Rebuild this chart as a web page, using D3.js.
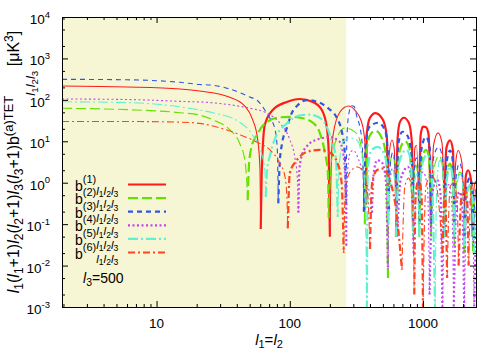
<!DOCTYPE html>
<html>
<head>
<meta charset="utf-8">
<script src="https://cdn.jsdelivr.net/npm/d3@7"></script>
<style>
  body { margin: 0; background: #fff; }
  text { font-family: "Liberation Sans", Arial, sans-serif; fill: #000; white-space: pre; }
</style>
</head>
<body>
<svg id="chart" width="500" height="350"></svg>
<script>
// axis ranges and ticks
var xDomain = [1.95, 2500];
var yDomain = [1e-3, 1e4];
var xMajor = [10, 100, 1000];
var xMinor = [2, 3, 4, 5, 6, 7, 8, 9, 20, 30, 40, 50, 60, 70, 80, 90,
              200, 300, 400, 500, 600, 700, 800, 900, 2000];
var yExponents = [-3, -2, -1, 0, 1, 2, 3, 4];
var yMinor = [2e-3, 5e-3, 2e-2, 5e-2, 2e-1, 5e-1, 2, 5, 20, 50, 200, 500, 2000, 5000];
var shadeUntil = 265;
var l3Value = 500;
var seriesLabels = ["(1)", "(2)", "(3)", "(4)", "(5)", "(6)"];

// |b|, one arc between two zeros, s = sign of the arc
var b1Arcs = [
  {s: -1, pts: [[1.95,216],[6,205],[15,183],[21,164],[35,117],[46,71],[52.7,33],[57.5,10.7],[59.8,2],[60.5,0.076]]},
  {s: 1, pts: [[60.5,0.076],[61.5,1.5],[64.9,24.7],[74.5,57],[94.9,89],[119,105],[149,89],[174,57],[190,21],[196,5.5],[200,0.05]]},
  {s: -1, pts: [[200,0.05],[206,5],[212,15],[238,51],[276,71],[310,55],[345,30],[366,10],[374,0.3]]},
  {s: 1, pts: [[374,0.3],[379,16],[400,37],[440,48],[500,33],[535,13],[546,0.1]]},
  {s: -1, pts: [[546,0.1],[555,4],[585,10.7],[610,6],[627,0.05]]},
  {s: 1, pts: [[627,0.05],[645,12],[671,29],[719,37],[783,28],[826,9],[840,0.2]]},
  {s: -1, pts: [[840,0.2],[870,7],[895,8],[933,0.1]]},
  {s: 1, pts: [[933,0.1],[960,14],[1000,22.5],[1050,22],[1100,15],[1149,0.08]]},
  {s: -1, pts: [[1149,0.08],[1200,8],[1298,16],[1390,9],[1441,0.3]]},
  {s: 1, pts: [[1441,0.3],[1500,7],[1595,10.5],[1680,6],[1711,0.2]]},
  {s: -1, pts: [[1711,0.2],[1760,3],[1835,6],[1960,3],[2034,0.1]]},
  {s: 1, pts: [[2034,0.1],[2100,1.5],[2181,2],[2290,1.2],[2360,0.05]]},
  {s: -1, pts: [[2360,0.05],[2420,0.8],[2500,1.1]]}
];
var b2Arcs = [
  {s: -1, pts: [[1.95,62.5],[6,58],[15,49],[21,43],[26.4,33],[35.4,19],[42,9],[46,3.5],[47.6,1],[48.3,0.38]]},
  {s: 1, pts: [[48.3,0.38],[49.5,3],[52,8],[56.5,14],[61.5,22],[68.3,30],[80,37],[100,39],[125,36],[149,28],[168,16],[183,5.5],[193,1.8],[196,0.14]]},
  {s: -1, pts: [[196,0.14],[205,3],[226,12],[259,21],[290,19],[324,14],[350,5],[366,0.1]]},
  {s: 1, pts: [[366,0.1],[375,5],[400,14],[440,18],[490,12],[530,4],[546,0.005]]},
  {s: -1, pts: [[546,0.005],[560,2],[590,4.7],[615,2.5],[630,0.05]]},
  {s: 1, pts: [[630,0.05],[660,5],[731,10],[790,7],[840,0.1]]},
  {s: -1, pts: [[840,0.1],[860,1.5],[885,2.7],[910,1.5],[935,0.05]]},
  {s: 1, pts: [[935,0.05],[980,3.5],[1053,6.2],[1110,4],[1150,0.05]]},
  {s: -1, pts: [[1150,0.05],[1220,2.5],[1321,4.5],[1400,2.5],[1445,0.05]]},
  {s: 1, pts: [[1445,0.05],[1510,1.5],[1595,2.9],[1670,1.5],[1715,0.03]]},
  {s: -1, pts: [[1715,0.03],[1790,1],[1897,1.8],[1990,1],[2040,0.02]]},
  {s: 1, pts: [[2040,0.02],[2120,0.5],[2220,0.9],[2320,0.5],[2380,0.02]]},
  {s: -1, pts: [[2380,0.02],[2440,0.3],[2500,0.45]]}
];
var b3Arcs = [
  {s: -1, pts: [[1.95,313],[6,305],[15,265],[21,235],[26.4,225],[42,150],[50,117],[56.5,99],[65,57],[71,36],[77,21],[80.5,7],[82,0.32]]},
  {s: 1, pts: [[82,0.32],[84,3],[87,8],[95,21],[103.5,48],[115,75],[136,99],[162,89],[193,64],[226,36],[246,17],[258,6],[265,0.3]]},
  {s: -1, pts: [[265,0.3],[268,10],[277,45],[292,72],[305,68],[319,39],[336,22],[350,8],[360,0.2]]},
  {s: 1, pts: [[360,0.2],[370,8],[395,22],[460,28],[520,18],[545,5],[556,0.2]]},
  {s: -1, pts: [[556,0.2],[570,3],[595,5.5],[615,3],[632,0.1]]},
  {s: 1, pts: [[632,0.1],[650,8],[700,17],[760,14],[820,5],[845,0.1]]},
  {s: -1, pts: [[845,0.1],[860,2],[890,4],[920,2],[938,0.1]]},
  {s: 1, pts: [[938,0.1],[970,6],[1050,12.7],[1120,8],[1155,0.1]]},
  {s: -1, pts: [[1155,0.1],[1200,4],[1310,7.3],[1400,4],[1450,0.1]]},
  {s: 1, pts: [[1450,0.1],[1500,3],[1600,6],[1680,3],[1720,0.1]]},
  {s: -1, pts: [[1720,0.1],[1780,1.5],[1880,3],[1980,1.5],[2040,0.05]]},
  {s: 1, pts: [[2040,0.05],[2120,0.8],[2250,1.3],[2350,0.6],[2400,0.03]]},
  {s: -1, pts: [[2400,0.03],[2450,0.4],[2500,0.6]]}
];
var b4Arcs = [
  {s: -1, pts: [[1.95,105],[6,102],[15,92],[26.4,85],[40,72],[50,63],[67,48],[84,28],[100,11],[109,4.2],[114,1.3],[116,0.19]]},
  {s: 1, pts: [[116,0.19],[118,2],[123,4.5],[134,7.5],[160,11],[200,12.5],[235,10],[252,5],[262,1],[266,0.03]]},
  {s: -1, pts: [[266,0.03],[272,2],[285,5.5],[300,6],[330,3.5],[366,1.2],[395,0.6],[414,0.19]]},
  {s: 1, pts: [[414,0.19],[425,1.5],[452,3.5],[495,3],[525,1.2],[546,0.008]]},
  {s: -1, pts: [[546,0.008],[560,0.8],[590,2.2],[620,1.5],[640,0.05]]},
  {s: 1, pts: [[640,0.05],[680,1.2],[770,2.4],[820,1.2],[850,0.02]]},
  {s: -1, pts: [[850,0.02],[900,0.8],[1000,1.8],[1080,0.8],[1120,0.002]]},
  {s: 1, pts: [[1120,0.002],[1180,0.6],[1270,1.2],[1350,0.6],[1400,0.0008]]},
  {s: -1, pts: [[1400,0.0008],[1470,0.5],[1560,0.9],[1640,0.4],[1700,0.0008]]},
  {s: 1, pts: [[1700,0.0008],[1780,0.3],[1880,0.6],[1970,0.3],[2040,0.0008]]},
  {s: -1, pts: [[2040,0.0008],[2130,0.2],[2250,0.35],[2360,0.15],[2420,0.0008]]},
  {s: 1, pts: [[2420,0.0008],[2500,0.1]]}
];
var b5Arcs = [
  {s: -1, pts: [[1.95,90],[6,86],[15,68],[21,57],[26.4,49],[42,29],[52.7,14],[61.5,5],[65,2],[66,0.45]]},
  {s: 1, pts: [[66,0.45],[67.5,2],[71,4.5],[77,11],[95,27],[119,42],[140,44],[165,38],[190,22],[205,11],[222,4],[229,0.15]]},
  {s: -1, pts: [[229,0.15],[236,3],[250,9.6],[285,12],[319,10.7],[345,5],[365,1],[379,0.0008]]},
  {s: 1, pts: [[379,0.0008],[385,2],[410,6],[455,7.3],[510,5],[540,2],[550,0.1]]},
  {s: -1, pts: [[550,0.1],[570,1],[592,2],[615,1],[630,0.05]]},
  {s: 1, pts: [[630,0.05],[660,3],[750,6.2],[810,3.5],[842,0.05]]},
  {s: -1, pts: [[842,0.05],[870,1.2],[900,1.6],[935,0.05]]},
  {s: 1, pts: [[935,0.05],[980,2.5],[1070,4.7],[1150,3],[1232,0.0008]]},
  {s: -1, pts: [[1232,0.0008],[1270,1],[1340,3.5],[1410,2],[1450,0.05]]},
  {s: 1, pts: [[1450,0.05],[1510,1.2],[1600,2.4],[1680,1.2],[1720,0.05]]},
  {s: -1, pts: [[1720,0.05],[1790,0.8],[1900,1.6],[1990,0.8],[2040,0.03]]},
  {s: 1, pts: [[2040,0.03],[2150,0.6],[2260,0.9],[2360,0.4],[2420,0.02]]},
  {s: -1, pts: [[2420,0.02],[2500,0.3]]}
];
var b6Arcs = [
  {s: -1, pts: [[1.95,30],[6,30],[15,29],[21,27],[30,21],[42,14.5],[56.5,9.6],[71,6.2],[84,3],[92,1.4],[95,0.5],[96.6,0.08]]},
  {s: 1, pts: [[96.6,0.08],[100,1.7],[113,3.5],[134,5.5],[168,6.2],[200,5.3],[226,3.2],[245,1],[254,0.02]]},
  {s: -1, pts: [[254,0.02],[262,0.8],[290,2],[325,2.4],[360,1.6],[385,0.5],[400,0.025]]},
  {s: 1, pts: [[400,0.025],[415,1],[450,2],[500,2.2],[560,1.2],[620,0.3],[695,0.008]]},
  {s: -1, pts: [[695,0.008],[730,0.8],[780,1.3],[830,0.5],[860,0.002]]},
  {s: 1, pts: [[860,0.002],[880,0.5],[930,1.2],[975,0.5],[1000,0.001]]},
  {s: -1, pts: [[1000,0.001],[1050,0.8],[1150,1.5],[1250,1],[1330,0.2],[1400,0.02]]},
  {s: 1, pts: [[1400,0.02],[1460,0.7],[1518,0.005]]},
  {s: -1, pts: [[1518,0.005],[1600,0.8],[1700,1],[1800,0.4],[1850,0.01]]},
  {s: 1, pts: [[1850,0.01],[1950,0.5],[2050,0.7],[2150,0.3],[2200,0.01]]},
  {s: -1, pts: [[2200,0.01],[2300,0.8],[2400,1],[2500,0.5]]}
];

var allArcs = [b1Arcs, b2Arcs, b3Arcs, b4Arcs, b5Arcs, b6Arcs];
var lineStyles = [
  {color: "#ff1a1a", dash: null},
  {color: "#66e000", dash: "10,4"},
  {color: "#2f55e8", dash: "5,4"},
  {color: "#c044f0", dash: "2,2.5"},
  {color: "#5ff2d0", dash: "10,3,2,3"},
  {color: "#ff4422", dash: "7,3,2,3"}
];

var svg = d3.select("#chart");
var plotL = 62, plotR = 476, plotT = 17, plotB = 307;

var x = d3.scaleLog().domain(xDomain).range([plotL, plotR]);
var y = d3.scaleLog().domain(yDomain).range([plotB, plotT]);

// text with super/subscripts: parts are [text, size, baseline offset, italic]
function rich(textSel, parts) {
    var prev = 0;
    parts.forEach(function(p) {
        textSel.append("tspan")
            .attr("dy", p[2] - prev)
            .style("font-size", p[1] + "px")
            .style("font-style", p[3] ? "italic" : "normal")
            .text(p[0]);
        prev = p[2];
    });
}
function ells(nums, size, off) {
    var out = [];
    nums.forEach(function(n) {
        out.push(["l", size, off, true]);
        out.push([String(n), size * 0.75, off + 2.5]);
    });
    return out;
}

svg.append("defs").append("clipPath").attr("id", "plotclip")
    .append("rect")
    .attr("x", plotL).attr("y", plotT)
    .attr("width", plotR - plotL).attr("height", plotB - plotT);

// shaded band
svg.append("rect")
    .attr("x", x(xDomain[0]))
    .attr("y", plotT)
    .attr("width", x(shadeUntil) - x(xDomain[0]))
    .attr("height", plotB - plotT)
    .attr("fill", "#f6f6d4");

var line = d3.line()
    .x(function(d) { return x(d[0]); })
    .y(function(d) { return y(d[1]); })
    .curve(d3.curveMonotoneX);

var curves = svg.append("g").attr("clip-path", "url(#plotclip)");
allArcs.forEach(function(arcs, i) {
    var st = lineStyles[i];
    var g = curves.append("g").attr("class", "series-" + (i + 1));
    arcs.forEach(function(arc) {
        g.append("path")
            .attr("d", line(arc.pts))
            .attr("fill", "none")
            .attr("stroke", st.color)
            .attr("stroke-width", arc.s > 0 ? 2.2 : 1.1)
            .attr("stroke-dasharray", st.dash);
    });
});

// ticks, pointing inwards on all four sides
function drawAxis(axis, tx, ty) {
    var g = svg.append("g").attr("transform", "translate(" + tx + "," + ty + ")").call(axis);
    g.select(".domain").remove();
    g.selectAll("text").remove();
}
var yMajor = yExponents.map(function(e) { return Math.pow(10, e); });
drawAxis(d3.axisBottom(x).tickValues(xMajor).tickSize(-6), 0, plotB);
drawAxis(d3.axisBottom(x).tickValues(xMinor).tickSize(-3), 0, plotB);
drawAxis(d3.axisTop(x).tickValues(xMajor).tickSize(-6), 0, plotT);
drawAxis(d3.axisTop(x).tickValues(xMinor).tickSize(-3), 0, plotT);
drawAxis(d3.axisLeft(y).tickValues(yMajor).tickSize(-6), plotL, 0);
drawAxis(d3.axisLeft(y).tickValues(yMinor).tickSize(-3), plotL, 0);
drawAxis(d3.axisRight(y).tickValues(yMajor).tickSize(-6), plotR, 0);
drawAxis(d3.axisRight(y).tickValues(yMinor).tickSize(-3), plotR, 0);

svg.append("rect")
    .attr("x", plotL + 0.5).attr("y", plotT + 0.5)
    .attr("width", plotR - plotL).attr("height", plotB - plotT)
    .attr("fill", "none").attr("stroke", "#000").attr("stroke-width", 1);

// tick labels
xMajor.forEach(function(v) {
    svg.append("text")
        .attr("x", x(v)).attr("y", plotB + 21)
        .attr("text-anchor", "middle")
        .style("font-size", "13.5px")
        .text(v);
});
yExponents.forEach(function(e) {
    var t = svg.append("text")
        .attr("x", plotL - 12).attr("y", y(Math.pow(10, e)) + 7)
        .attr("text-anchor", "end");
    rich(t, [["10", 13.5, 0], [String(e), 9.5, -6.5]]);
});

// axis titles
var xt = svg.append("text")
    .attr("x", (plotL + plotR) / 2).attr("y", 345)
    .attr("text-anchor", "middle");
rich(xt, [["l", 15, 0, true], ["1", 11, 3], ["=", 15, 0], ["l", 15, 0, true], ["2", 11, 3]]);

var yt = svg.append("text")
    .attr("transform", "translate(19," + ((plotT + plotB) / 2) + ") rotate(-90)")
    .attr("text-anchor", "middle");
var yParts = [];
[1, 2, 3].forEach(function(n) {
    yParts.push(["l", 16, 0, true], [String(n), 12, 3.5], ["(", 16, 0], ["l", 16, 0, true], [String(n), 12, 3.5], ["+1)", 16, 0]);
});
yParts.push(["b", 16, 0], ["(a)TET", 13, -6.5]);
yParts = yParts.concat(ells([1, 2, 3], 13, 16));
yParts.push([" [\u03bcK", 16, 0], ["3", 12, -6.5], ["]", 16, 0]);
rich(yt, yParts);

// key
var keyBase = 190.5, keyStep = 13.6;
seriesLabels.forEach(function(lab, i) {
    var by = keyBase + i * keyStep;
    var t = svg.append("text").attr("x", 75).attr("y", by);
    rich(t, [["b", 14, 0], [lab, 11, -8]].concat(ells([1, 2, 3], 11.5, 4)));
    svg.append("line")
        .attr("x1", 128).attr("x2", 166)
        .attr("y1", by - 6).attr("y2", by - 6)
        .attr("stroke", lineStyles[i].color)
        .attr("stroke-width", 2.2)
        .attr("stroke-dasharray", lineStyles[i].dash);
});

var lt = svg.append("text").attr("x", 83).attr("y", 283);
rich(lt, [["l", 14, 0, true], ["3", 10.5, 3], ["=" + l3Value, 14, 0]]);
</script>
</body>
</html>
